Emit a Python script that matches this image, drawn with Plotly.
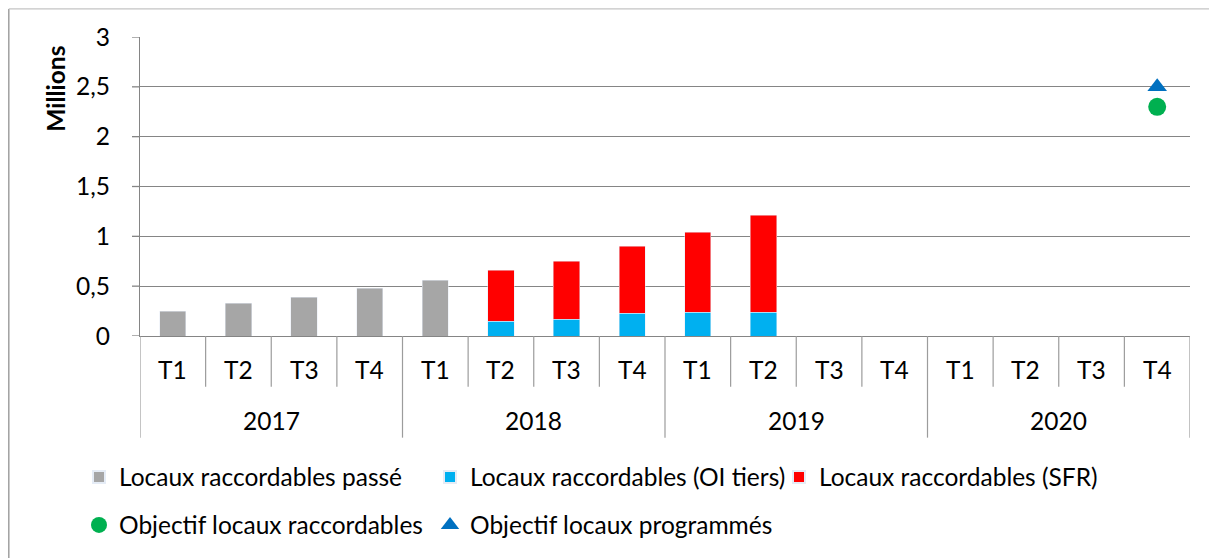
import plotly.graph_objects as go

# ---------------- data ----------------
years = ["2017", "2018", "2019", "2020"]
quarters = ["T1", "T2", "T3", "T4"]
categories = [f"{y} {q}" for y in years for q in quarters]

passe = [0.25, 0.33, 0.39, 0.48, 0.56, None, None, None, None, None, None, None, None, None, None, None]
oi_tiers = [None, None, None, None, None, 0.15, 0.17, 0.23, 0.24, 0.24, None, None, None, None, None, None]
sfr = [None, None, None, None, None, 0.51, 0.58, 0.67, 0.80, 0.97, None, None, None, None, None, None]
obj_raccordables = [None] * 15 + [2.3]
obj_programmes = [None] * 15 + [2.5]

y_tickvals = [0, 0.5, 1, 1.5, 2, 2.5, 3]
y_ticktext = ["0", "0,5", "1", "1,5", "2", "2,5", "3"]

names = ["Locaux raccordables passé", "Locaux raccordables (OI tiers)", "Locaux raccordables (SFR)",
         "Objectif locaux raccordables", "Objectif locaux programmés"]

# ---------------- geometry (reference-image pixels) ----------------
REF_W, REF_H = 1217, 558
OFF = 8  # page body margin
W, H = REF_W - OFF, REF_H - OFF
PL, PR, PT, PB = 140, 1190, 37, 337
pw, ph = PR - PL, PB - PT


def px_x(p):
    return (p - PL) / pw


def px_y(p):
    return (PB - p) / ph


FONT = "Lato"
FS = 24.5
GRID = "#858585"
DIV = "#9c9c9c"

fig = go.Figure()
fig.add_trace(go.Bar(x=categories, y=passe, name=names[0], marker=dict(color="#A6A6A6"), legend="legend"))
fig.add_trace(go.Bar(x=categories, y=oi_tiers, name=names[1], marker=dict(color="#00B0F0"), legend="legend2"))
fig.add_trace(go.Bar(x=categories, y=sfr, name=names[2], marker=dict(color="#FF0000"), legend="legend3"))
fig.add_trace(go.Scatter(x=categories, y=obj_raccordables, name=names[3], mode="markers",
                         marker=dict(color="#00B050", symbol="circle", size=18), legend="legend4"))
fig.add_trace(go.Scatter(x=categories, y=obj_programmes, name=names[4], mode="markers",
                         marker=dict(color="#0070C0", symbol="triangle-up", size=17), legend="legend5"))

annotations = []
shapes = []
# quarter labels and year labels
for i, c in enumerate(categories):
    annotations.append(dict(x=c, xref="x", y=px_y(371), yref="paper", text=quarters[i % 4],
                            showarrow=False, yanchor="middle", font=dict(family=FONT, size=FS, color="black")))
for j, yr in enumerate(years):
    annotations.append(dict(x=j * 4 + 1.5, xref="x", y=px_y(422), yref="paper", text=yr,
                            showarrow=False, yanchor="middle", font=dict(family=FONT, size=FS, color="black")))
# y axis title (placed near the top like the reference)
annotations.append(dict(x=px_x(56), xref="paper", y=px_y(89), yref="paper", text="<b>Millions</b>",
                        textangle=-90, showarrow=False, xanchor="center", yanchor="middle",
                        font=dict(family=FONT, size=FS, color="black")))

# category dividers below the axis
for i in range(len(categories) + 1):
    bottom = px_y(439) if i % 4 == 0 else px_y(388)
    shapes.append(dict(type="line", xref="x", yref="paper", x0=i - 0.5, x1=i - 0.5, y0=0, y1=bottom,
                       line=dict(color=DIV, width=1.2)))
# short visible y ticks
for v in y_tickvals:
    shapes.append(dict(type="line", xref="paper", yref="y", x0=px_x(132), x1=0, y0=v, y1=v,
                       line=dict(color=GRID, width=1.3)))

# chart-area border (left and top only)
shapes.append(dict(type="line", xref="paper", yref="paper", x0=px_x(OFF + 0.8), x1=px_x(OFF + 0.8),
                   y0=px_y(OFF + 0.8), y1=px_y(REF_H + 2), line=dict(color="#a0a0a0", width=1.5)))
shapes.append(dict(type="line", xref="paper", yref="paper", x0=px_x(OFF + 0.8), x1=px_x(REF_W + 2),
                   y0=px_y(OFF + 0.7), y1=px_y(OFF + 0.7), line=dict(color="#c4c4c4", width=1.3)))

leg_common = dict(orientation="h", xanchor="left", yanchor="middle", bgcolor="rgba(0,0,0,0)",
                  font=dict(family=FONT, size=FS, color="black"))

fig.update_layout(
    width=W, height=H,
    margin=dict(l=PL - OFF, r=REF_W - PR, t=PT - OFF, b=REF_H - PB, pad=0),
    paper_bgcolor="white", plot_bgcolor="white",
    barmode="stack", bargap=0.6,
    font=dict(family=FONT, size=FS, color="black"),
    showlegend=True,
    legend=dict(x=px_x(79), y=px_y(477), itemsizing="constant", **leg_common),
    legend2=dict(x=px_x(430), y=px_y(477), itemsizing="constant", **leg_common),
    legend3=dict(x=px_x(779), y=px_y(477), itemsizing="constant", **leg_common),
    legend4=dict(x=px_x(79), y=px_y(525), itemsizing="trace", **leg_common),
    legend5=dict(x=px_x(430), y=px_y(525), itemsizing="trace", **leg_common),
    xaxis=dict(type="category", categoryorder="array", categoryarray=categories,
               range=[-0.5, 15.5], showticklabels=False, ticks="", showgrid=False,
               showline=True, linecolor=GRID, linewidth=1.3, zeroline=False, fixedrange=True),
    yaxis=dict(range=[0, 3], tickvals=y_tickvals, ticktext=y_ticktext, showgrid=True,
               gridcolor=GRID, gridwidth=1.3, zeroline=False,
               showline=True, linecolor=GRID, linewidth=1.3,
               ticks="outside", ticklen=24, tickcolor="rgba(255,255,255,0)", tickwidth=1,
               tickfont=dict(family=FONT, size=FS, color="black"),
               fixedrange=True),
    annotations=annotations,
    shapes=shapes,
)

fig.write_html("out.html")
